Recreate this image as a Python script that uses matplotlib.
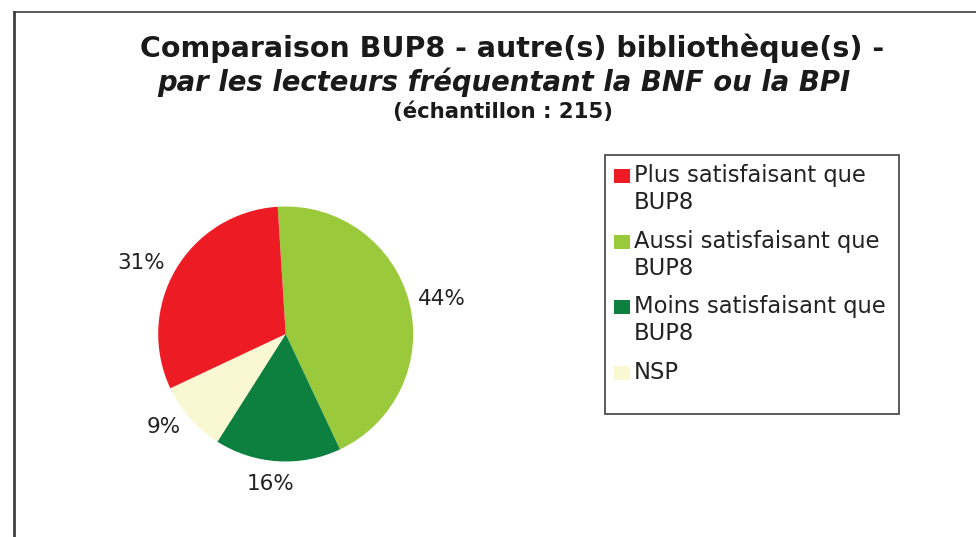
import matplotlib
matplotlib.use("Agg")
import matplotlib.pyplot as plt
from matplotlib.patches import Rectangle
from matplotlib.lines import Line2D
import numpy as np

# ---- data ----
categories = ["Plus satisfaisant que\nBUP8", "Aussi satisfaisant que\nBUP8",
              "Moins satisfaisant que\nBUP8", "NSP"]
values = [31, 44, 16, 9]
colors = ["#ED1C24", "#9ACA3C", "#0D8040", "#FAF8D2"]
draw_order = [1, 2, 3, 0]          # clockwise from the top
title_1 = "Comparaison BUP8 - autre(s) bibliothèque(s) -"
title_2 = "par les lecteurs fréquentant la BNF ou la BPI"
title_3 = "(échantillon : 215)"

W, H = 976, 537
fig = plt.figure(figsize=(W / 100, H / 100), dpi=100)
fig.patch.set_facecolor("white")

def fx(px):
    return px / W

def fy(py):
    return 1 - py / H

# chart border (extends beyond the right and bottom edges)
fig.add_artist(Line2D([fx(14), 1.1], [fy(12), fy(12)], transform=fig.transFigure,
                      color="#404040", lw=1.2))
fig.add_artist(Line2D([fx(14), fx(14)], [fy(12), -0.1], transform=fig.transFigure,
                      color="#404040", lw=2.0))

# titles
fig.text(fx(512), fy(48), title_1, ha="center", va="center", fontsize=20.5, fontweight="bold",
         color="#1a1a1a", family="DejaVu Sans")
fig.text(fx(504), fy(82), title_2, ha="center", va="center", fontsize=19.8, fontweight="bold",
         style="italic", color="#1a1a1a", family="DejaVu Sans")
fig.text(fx(503), fy(112), title_3, ha="center", va="center", fontsize=15.3, fontweight="bold",
         color="#1a1a1a", family="DejaVu Sans")

# pie
cx, cy, R = 285.7, 334.0, 127.5
ax = fig.add_axes([fx(cx - R), fy(cy + R), 2 * R / W, 2 * R / H])
vals = [values[i] for i in draw_order]
cols = [colors[i] for i in draw_order]
wedges, _ = ax.pie(vals, colors=cols, startangle=93.6, counterclock=False,
                   wedgeprops=dict(linewidth=0))
ax.set_xlim(-1, 1)
ax.set_ylim(-1, 1)
ax.set_aspect("auto")
ax.axis("off")

for w, v in zip(wedges, vals):
    ang = np.deg2rad((w.theta1 + w.theta2) / 2)
    c, s = np.cos(ang), np.sin(ang)
    d = 1.1
    if abs(c) < 0.2:
        ha = "center"
        va = "top" if s < 0 else "bottom"
        xx = d * c - 0.05
    else:
        ha = "left" if c > 0 else "right"
        va = "center"
        xx = d * c - (0.03 if c > 0 else 0.0)
    ax.text(xx, d * s, f"{v}%", ha=ha, va=va, fontsize=15.5, color="#222222",
            family="DejaVu Sans", clip_on=False)

# legend (manual, Excel-like)
fig.add_artist(Rectangle((fx(605), fy(414)), fx(899) - fx(605), fy(155) - fy(414),
                         transform=fig.transFigure, fill=False, edgecolor="#404040", lw=1.2))
entry_y = [176, 242, 307, 373]
for cat, col, yy in zip(categories, colors, entry_y):
    fig.add_artist(Rectangle((fx(614), fy(yy + 7)), fx(16), 14 / H, transform=fig.transFigure,
                             facecolor=col, edgecolor="none"))
    fig.text(fx(634), fy(yy - 12), cat, ha="left", va="top", fontsize=16.3,
             color="#222222", family="DejaVu Sans", linespacing=1.2)

fig.savefig("out.png", dpi=100)
